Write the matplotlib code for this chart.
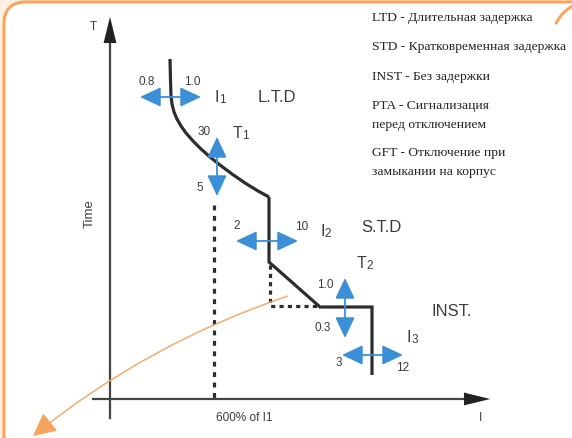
import matplotlib
matplotlib.use("Agg")
import matplotlib.pyplot as plt
from matplotlib.patches import FancyBboxPatch, FancyArrowPatch
import numpy as np

plt.rcParams['lines.scale_dashes'] = False

# ---- data (diagram coordinates, pixel space of the schematic) ----
ltd_x = [170, 170.5, 171, 172, 174, 177, 181, 186, 193, 201, 210, 220, 232, 245, 258, 269]
ltd_y = [59, 80, 96, 104, 112, 119, 126, 133, 141, 149, 157, 165, 174, 183, 191, 197]
std_x = [269, 269, 320, 372, 372]
std_y = [197, 262, 307, 307, 375]
dot1_x = [214, 214]
dot1_y = [205, 399]
dot2_x = [270, 270, 320]
dot2_y = [265, 306, 306]

# adjustment arrows: (x0, y0, x1, y1)
adj_arrows = {
    'I1': (140, 97, 201, 97),
    'T1': (217, 137, 217, 196),
    'I2': (236, 241, 298, 241),
    'T2': (345, 278, 345, 338),
    'I3': (342, 355, 403, 355),
}

small_labels = [("0.8", 147, 82), ("1.0", 192, 82), ("30", 204, 132), ("5", 200, 188),
                ("2", 237, 226), ("10", 302, 227), ("1.0", 325, 285), ("0.3", 323, 328),
                ("3", 339, 363), ("12", 403, 368)]
sym_labels = [("I", "1", 215, 97), ("T", "1", 233, 133), ("I", "2", 320, 231),
              ("T", "2", 357, 263), ("I", "3", 407, 337)]
zone_labels = [("L.T.D", 277, 97), ("S.T.D", 381, 227), ("INST.", 452, 312)]

legend_lines = [("LTD - Длительная задержка", 18),
                ("STD - Кратковременная задержка", 47),
                ("INST - Без задержки", 77),
                ("PTA - Сигнализация", 106),
                ("перед отключением", 125),
                ("GFT - Отключение при", 153),
                ("замыкании на корпус", 172)]

axis_labels = {"T": (93, 27), "I": (481, 418), "600% of I1": (244, 418)}

# ---- figure ----
fig = plt.figure(figsize=(5.72, 4.38), dpi=100)
fig.patch.set_facecolor('#fdefe2')
ax = fig.add_axes([0, 0, 1, 1])
ax.set_xlim(0, 572)
ax.set_ylim(438, 0)
ax.axis('off')
ax.set_facecolor('none')

orange = '#f7a45e'
blue = '#3b8fd6'
dark = '#2d2d2d'
txt = '#3c3c3c'

box = FancyBboxPatch((4, 2), 640, 500, boxstyle="round,pad=0,rounding_size=22",
                     facecolor='white', edgecolor=orange, linewidth=2.2, zorder=0)
ax.add_patch(box)
# small orange arc at top-right corner
th = np.linspace(np.pi * 0.6, np.pi * 0.85, 30)
ax.plot(592 + 40 * np.cos(th), 41 - 40 * np.sin(th), color=orange, lw=2.2, zorder=0)

# axes
ax.plot([110, 110], [30, 418], color='#444444', lw=1.6, zorder=2)
ax.plot([93, 478], [399, 399], color='#444444', lw=1.6, zorder=2)
ax.add_patch(FancyArrowPatch((110, 40), (110, 14), arrowstyle='-|>,head_length=1.35,head_width=0.33',
                             mutation_scale=14, color='#222222', lw=0, zorder=3))
ax.add_patch(FancyArrowPatch((470, 399), (493, 399), arrowstyle='-|>,head_length=1.35,head_width=0.33',
                             mutation_scale=14, color='#222222', lw=0, zorder=3))

# curves
ax.plot(ltd_x, ltd_y, color=dark, lw=2.3, solid_capstyle='butt', zorder=3)
ax.plot(std_x, std_y, color=dark, lw=2.3, solid_joinstyle='miter', solid_capstyle='butt', zorder=3)
ax.plot(dot1_x, dot1_y, color=dark, lw=2.3, dashes=(3.5, 4.0), zorder=3)
ax.plot(dot2_x, dot2_y, color=dark, lw=2.3, dashes=(3.0, 3.0), zorder=3)

# blue adjust arrows
for k, (x0, y0, x1, y1) in adj_arrows.items():
    ax.add_patch(FancyArrowPatch((x0, y0), (x1, y1),
                                 arrowstyle='<|-|>,head_length=0.85,head_width=0.4',
                                 mutation_scale=15, color=blue, lw=1.3, zorder=4,
                                 shrinkA=0, shrinkB=0))

for s, x, y in small_labels:
    ax.text(x, y, s, fontsize=8.5, color=txt, ha='center', va='center',
            family='Liberation Sans', zorder=5)
for s, sub, x, y in sym_labels:
    ax.text(x, y, s, fontsize=11.5, color=txt, ha='left', va='center',
            family='Liberation Sans', zorder=5)
    ax.text(x + (4.5 if s == 'I' else 9), y + 3, sub, fontsize=8.5, color=txt, ha='left',
            va='center', family='Liberation Sans', zorder=5)
for s, x, y in zone_labels:
    ax.text(x, y, s, fontsize=12, color=txt, ha='center', va='center',
            family='Liberation Sans', zorder=5)

for s, y in legend_lines:
    ax.text(372, y, s, fontsize=9.7, color='#222222', ha='left', va='center',
            family='Liberation Serif', zorder=5)

ax.text(*axis_labels["T"], "T", fontsize=8.5, color=txt, ha='center', va='center', family='Liberation Sans')
ax.text(*axis_labels["I"], "I", fontsize=8.5, color=txt, ha='center', va='center', family='Liberation Sans')
ax.text(*axis_labels["600% of I1"], "600% of I1", fontsize=8.5, color=txt, ha='center', va='center',
        family='Liberation Sans')
ax.text(90, 214, "Time", fontsize=9.5, color=txt, ha='center', va='center', rotation=90,
        family='Liberation Sans')

# orange pointer arrow
ax.add_patch(FancyArrowPatch((288, 296), (33, 436), connectionstyle='arc3,rad=0.09',
                             arrowstyle='-|>,head_length=1.1,head_width=0.55', mutation_scale=13,
                             color=orange, lw=1.0, shrinkA=0, shrinkB=0, zorder=6))

fig.savefig('out.png', dpi=100, facecolor=fig.get_facecolor())
